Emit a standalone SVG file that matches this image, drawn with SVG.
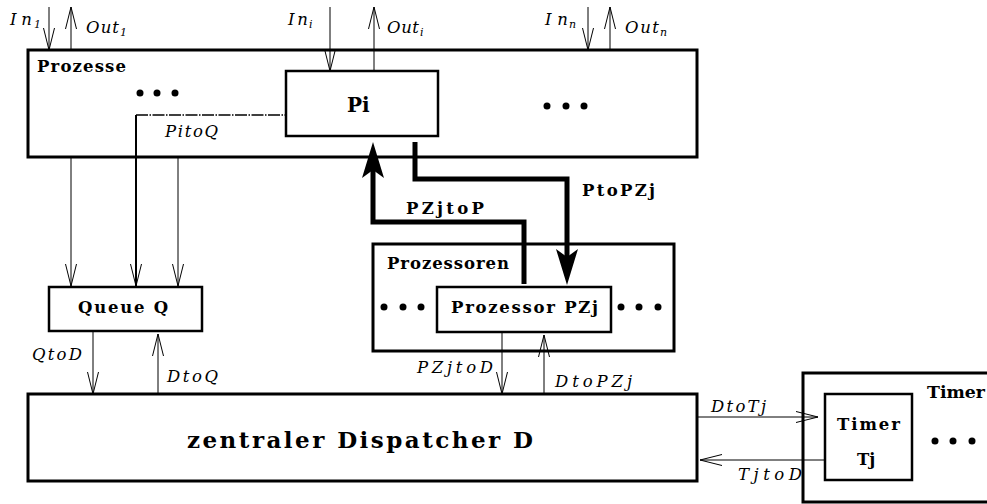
<svg xmlns="http://www.w3.org/2000/svg" width="987" height="504" viewBox="0 0 987 504">
<style>
.box{fill:none;stroke:#000;stroke-width:3}
.ibox{fill:none;stroke:#000;stroke-width:2.5}
.ln{fill:none;stroke:#000;stroke-width:1}
.thick{fill:none;stroke:#000;stroke-width:5}
.b{font-family:"DejaVu Serif","Liberation Serif",serif;font-weight:bold;font-size:16.5px}
.i{font-family:"DejaVu Serif","Liberation Serif",serif;font-style:italic;font-size:16.5px}
.s{font-family:"DejaVu Serif","Liberation Serif",serif;font-style:italic;font-size:11px}
</style>
<defs>
<marker id="v" markerUnits="userSpaceOnUse" markerWidth="24" markerHeight="14" viewBox="0 0 24 14" refX="22" refY="7" orient="auto">
<path d="M0,1.5 L22,7 L0,12.5" fill="none" stroke="#000" stroke-width="1"/>
</marker>
</defs>
<rect width="987" height="504" fill="#fff"/>
<g id="prozesse">
<rect class="box" x="28" y="50" width="669" height="107"/>
<text class="b" x="37" y="72" textLength="89" lengthAdjust="spacing">Prozesse</text>
<circle cx="140" cy="93" r="3.5"/><circle cx="157" cy="93" r="3.5"/><circle cx="175" cy="93" r="3.5"/>
<circle cx="547" cy="106" r="3.5"/><circle cx="566" cy="106" r="3.5"/><circle cx="584" cy="106" r="3.5"/>
</g>
<g id="pi">
<rect class="ibox" x="286" y="71" width="152" height="65"/>
<text class="b" x="347" y="112" style="font-size:20px">Pi</text>
</g>
<g id="queue">
<rect class="ibox" x="49" y="287" width="153" height="44"/>
<text class="b" x="78" y="313" textLength="90" lengthAdjust="spacing">Queue Q</text>
</g>
<g id="prozessoren">
<rect class="box" x="373" y="244" width="301" height="107"/>
<text class="b" x="387" y="269" textLength="122" lengthAdjust="spacing">Prozessoren</text>
<circle cx="384" cy="307" r="3.5"/><circle cx="403" cy="307" r="3.5"/><circle cx="421" cy="307" r="3.5"/>
<circle cx="621" cy="307" r="3.5"/><circle cx="639" cy="307" r="3.5"/><circle cx="658" cy="307" r="3.5"/>
</g>
<g id="pzj">
<rect class="ibox" x="437" y="287" width="174" height="45"/>
<text class="b" x="451" y="313" textLength="147" lengthAdjust="spacing">Prozessor PZj</text>
</g>
<g id="dispatcher">
<rect class="box" x="28" y="394" width="669" height="87"/>
<text class="b" x="187" y="448" style="font-size:23px" textLength="346" lengthAdjust="spacing">zentraler Dispatcher D</text>
</g>
<g id="timers">
<rect class="box" x="803" y="373" width="200" height="129"/>
<text class="b" x="927" y="398" textLength="58" lengthAdjust="spacingAndGlyphs">Timer</text>
<circle cx="935" cy="441" r="3.5"/><circle cx="953" cy="441" r="3.5"/><circle cx="972" cy="441" r="3.5"/>
</g>
<g id="timertj">
<rect class="ibox" x="825" y="394" width="87" height="86"/>
<text class="b" x="837" y="430" textLength="63" lengthAdjust="spacing">Timer</text>
<text class="b" x="857" y="465">Tj</text>
</g>
<g id="connectors">
<line class="ln" x1="49" y1="7" x2="49" y2="50" marker-end="url(#v)"/>
<line class="ln" x1="71" y1="50" x2="71" y2="7" marker-end="url(#v)"/>
<line class="ln" x1="330" y1="7" x2="330" y2="71" marker-end="url(#v)"/>
<line class="ln" x1="374" y1="71" x2="374" y2="7" marker-end="url(#v)"/>
<line class="ln" x1="588" y1="7" x2="588" y2="50" marker-end="url(#v)"/>
<line class="ln" x1="610" y1="50" x2="610" y2="7" marker-end="url(#v)"/>
<line class="ln" x1="71" y1="157" x2="71" y2="286" marker-end="url(#v)"/>
<line class="ln" x1="178" y1="157" x2="178" y2="286" marker-end="url(#v)"/>
<line x1="136" y1="115" x2="286" y2="115" stroke="#000" stroke-width="1.5" stroke-dasharray="12 1.5 1.5 1.5"/>
<line x1="136" y1="115" x2="136" y2="286" stroke="#000" stroke-width="2" marker-end="url(#v)"/>
<line class="ln" x1="93" y1="331" x2="93" y2="394" marker-end="url(#v)"/>
<line class="ln" x1="158" y1="394" x2="158" y2="334" marker-end="url(#v)"/>
<line class="ln" x1="502" y1="332" x2="502" y2="394" marker-end="url(#v)"/>
<line class="ln" x1="544" y1="394" x2="544" y2="335" marker-end="url(#v)"/>
<line class="ln" x1="697" y1="417" x2="818" y2="417" marker-end="url(#v)"/>
<line class="ln" x1="825" y1="460" x2="700" y2="460" marker-end="url(#v)"/>
<polyline class="thick" points="524,284 524,222 373,222 373,170"/>
<polygon points="373,142 384,178 373,170 362,178"/>
<polyline class="thick" points="415,142 415,179 567,179 567,257"/>
<polygon points="567,285 578,249 567,257 556,249"/>
</g>
<g id="labels">
<text class="i" x="10" y="25" textLength="22" lengthAdjust="spacing">In</text><text class="s" x="34" y="28">1</text>
<text class="i" x="86" y="33" textLength="33" lengthAdjust="spacing">Out</text><text class="s" x="120" y="36">1</text>
<text class="i" x="288" y="25" textLength="20" lengthAdjust="spacing">In</text><text class="s" x="309" y="28">i</text>
<text class="i" x="387" y="33" textLength="32" lengthAdjust="spacing">Out</text><text class="s" x="420" y="36">i</text>
<text class="i" x="545" y="25" textLength="23" lengthAdjust="spacing">In</text><text class="s" x="569" y="28">n</text>
<text class="i" x="625" y="33" textLength="34" lengthAdjust="spacing">Out</text><text class="s" x="660" y="36">n</text>
<text class="i" x="165" y="137" textLength="53" lengthAdjust="spacing">PitoQ</text>
<text class="i" x="32" y="360" textLength="50" lengthAdjust="spacing">QtoD</text>
<text class="i" x="167" y="382" textLength="51" lengthAdjust="spacing">DtoQ</text>
<text class="i" x="417" y="373" textLength="76" lengthAdjust="spacing">PZjtoD</text>
<text class="i" x="555" y="387" textLength="77" lengthAdjust="spacing">DtoPZj</text>
<text class="i" x="711" y="412" textLength="55" lengthAdjust="spacing">DtoTj</text>
<text class="i" x="738" y="480" textLength="64" lengthAdjust="spacing">TjtoD</text>
<text class="b" x="406" y="214" textLength="78" lengthAdjust="spacing">PZjtoP</text>
<text class="b" x="582" y="196" textLength="73" lengthAdjust="spacing">PtoPZj</text>
</g>
</svg>
